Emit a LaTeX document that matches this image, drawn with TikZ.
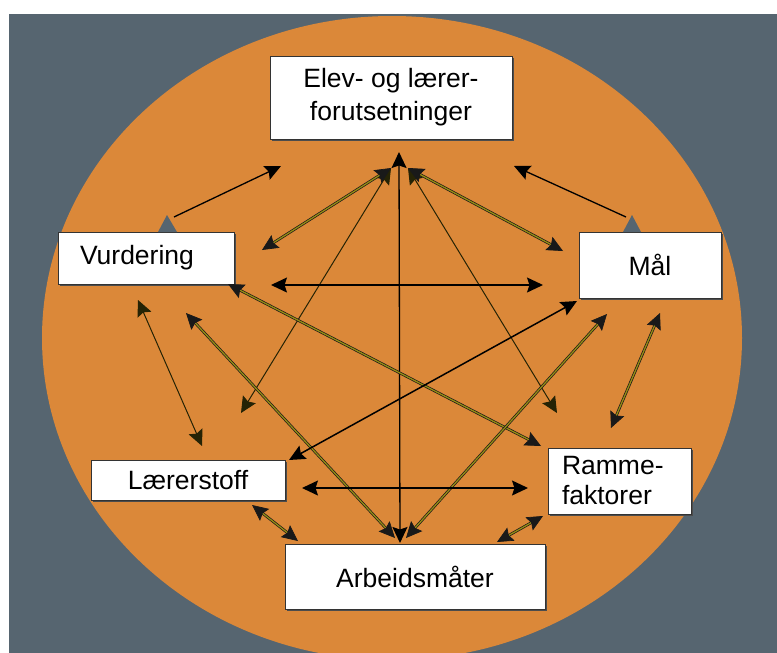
\documentclass[tikz,border=0pt]{standalone}
\usepackage{fontspec}
\setmainfont{Liberation Sans}
\usetikzlibrary{arrows.meta,shadows}
\definecolor{slate}{RGB}{86,101,112}
\definecolor{dusk}{RGB}{219,136,57}
\definecolor{reed}{RGB}{150,140,20}
\tikzset{
  box/.style={draw=black!80, fill=white, line width=0.8pt, inner sep=0pt,
    font=\fontsize{26.5}{30}\selectfont,
    drop shadow={shadow xshift=1.5pt, shadow yshift=-1.5pt, fill=black!70, opacity=1}},
  link/.style={{Stealth[length=16pt, width=15pt, inset=2.5pt]}-{Stealth[length=16pt, width=15pt, inset=2.5pt]}, line width=1.3pt},
  thin link/.style={link, line width=1pt, draw=black!75!reed},
  one way/.style={-{Stealth[length=16pt, width=15pt, inset=2.5pt]}},
  twin/.style={{Stealth[length=16pt, width=15pt, inset=2.5pt]}-{Stealth[length=16pt, width=15pt, inset=2.5pt]},
    draw=black!90, line width=0.7pt, double=reed, double distance=1.3pt},
}
\begin{document}
\begin{tikzpicture}[x=1pt, y=-1pt]
  \useasboundingbox (0,0) rectangle (777,653);
  \fill[white] (0,0) rectangle (777,653);
  \fill[slate] (9,14) rectangle (777,653); % frame
  \begin{scope}
    \clip (9,14) rectangle (777,653);
    \fill[dusk] (392,338) ellipse [x radius=350, y radius=322]; % disc
  \end{scope}

  % boxes
  \node[box, minimum width=242pt, minimum height=83pt, align=center] (elev) at (391,97.5) {Elev- og lærer-\\[3pt]forutsetninger};
  \node[box, text width=132pt, inner xsep=22pt, minimum height=52pt, align=left] (vurd) at (146,258) {Vurdering};
  \node[box, minimum width=142pt, minimum height=66pt] (maal) at (650,265) {Mål};
  \node[box, minimum width=194pt, minimum height=40pt] (laerer) at (188,480) {Lærerstoff};
  \node[box, text width=115pt, inner xsep=14pt, minimum height=66pt, align=left] (ramme) at (619.5,481) {Ramme-\\faktorer};
  \node[box, minimum width=260pt, minimum height=65pt] (arb) at (415,576.5) {Arbeidsmåter};

  % arrow ends
  \coordinate (eTop) at (399,152);   % hub under elev
  \coordinate (eL) at (391,168);
  \coordinate (eR) at (408,168);
  \coordinate (aTop) at (400,543);   % hub over arb
  \coordinate (aL) at (395,538);
  \coordinate (aR) at (406,538);
  \coordinate (eOutL) at (281,166);
  \coordinate (eOutR) at (514,166);
  \coordinate (vOut) at (174,217);
  \coordinate (mOut) at (626,217);
  \coordinate (vIn) at (262,250);
  \coordinate (mIn) at (563,251);
  \coordinate (vRight) at (271,285);
  \coordinate (mLeft) at (543,285);
  \coordinate (vCorner) at (228,284);
  \coordinate (vLow) at (138,300);
  \coordinate (vLowR) at (186,313);
  \coordinate (mLow) at (577,301);
  \coordinate (mLowL) at (607,314);
  \coordinate (mLowR) at (660,313);
  \coordinate (lTop) at (241,413);
  \coordinate (lUp) at (202,446);
  \coordinate (lRight) at (289,460);
  \coordinate (lMid) at (302,488);
  \coordinate (lBot) at (252,505);
  \coordinate (rTop) at (557,413);
  \coordinate (rLeft) at (541,446);
  \coordinate (rUp) at (611,428);
  \coordinate (rMid) at (528,488);
  \coordinate (rBot) at (543,516);
  \coordinate (aCornerL) at (298,541);
  \coordinate (aCornerR) at (497,542);

  % connectors
  \draw[link] (eTop) -- (aTop); % elev - arb
  \draw[thin link] (eL) -- (lTop); % elev - laerer
  \draw[thin link] (eR) -- (rTop); % elev - ramme
  \draw[twin] (eL) -- (vIn); % elev - vurd
  \draw[twin] (eR) -- (mIn); % elev - maal
  \draw[link, one way] (vOut) -- (eOutL); % vurd - elev
  \draw[link, one way] (mOut) -- (eOutR); % maal - elev
  \fill[slate] (158,232) -- (167,215) -- (177,232) -- cycle;
  \fill[slate] (623,232) -- (632,215) -- (641,232) -- cycle;
  \draw[link] (vRight) -- (mLeft); % vurd - maal
  \draw[twin] (vCorner) -- (rLeft); % vurd - ramme
  \draw[thin link] (vLow) -- (lUp); % vurd - laerer
  \draw[twin] (vLowR) -- (aL); % vurd - arb
  \draw[link, line width=1.5pt] (mLow) -- (lRight); % maal - laerer
  \draw[twin] (mLowL) -- (aR); % maal - arb
  \draw[twin] (mLowR) -- (rUp); % maal - ramme
  \draw[link] (lMid) -- (rMid); % laerer - ramme
  \draw[twin] (lBot) -- (aCornerL); % laerer - arb
  \draw[twin] (rBot) -- (aCornerR); % ramme - arb
\end{tikzpicture}
\end{document}
